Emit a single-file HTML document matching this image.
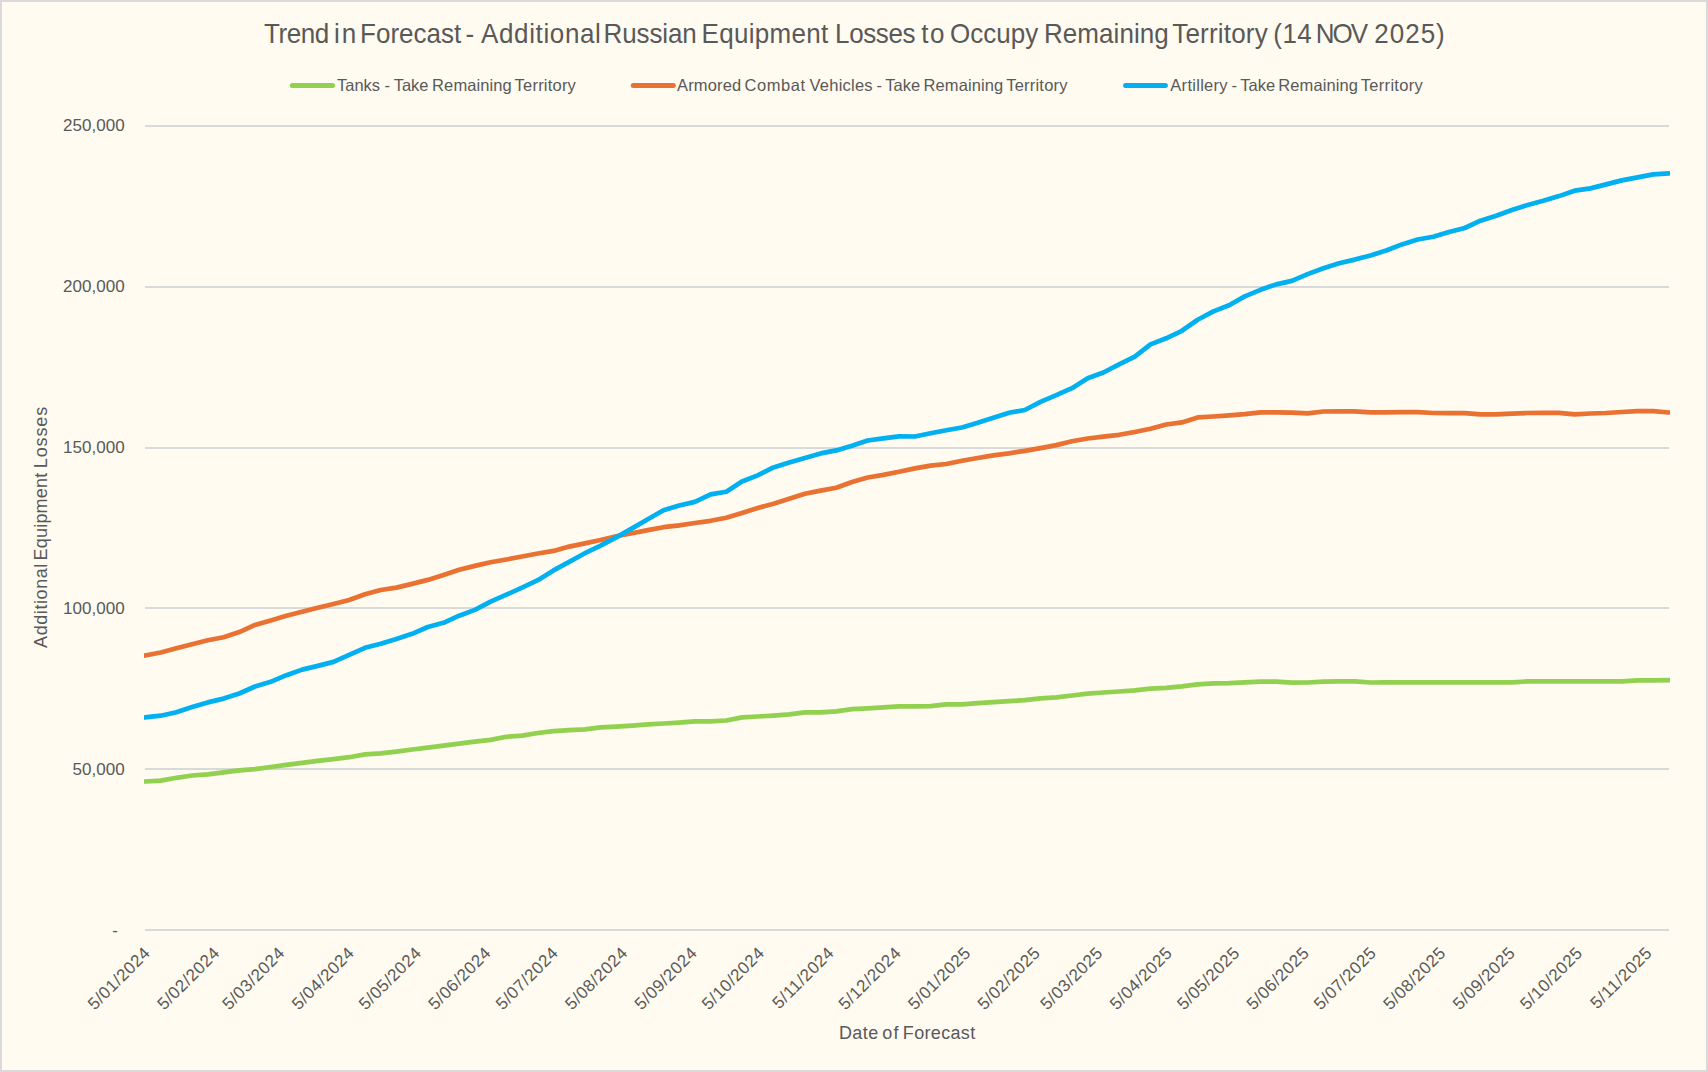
<!DOCTYPE html>
<html lang="en"><head><meta charset="utf-8"><title>Trend in Forecast</title>
<style>
html,body{margin:0;padding:0;background:#FFFBF0;}
body{width:1708px;height:1072px;overflow:hidden;position:relative;}
#frame{position:absolute;left:0;top:0;width:1704px;height:1068px;border:2px solid #D9D9D9;background:#FFFBF0;}
svg{position:absolute;left:0;top:0;}
text{font-family:"Liberation Sans",sans-serif;fill:#595959;}
</style></head><body>
<div id="frame"></div>
<svg width="1708" height="1072" viewBox="0 0 1708 1072">
<defs><clipPath id="pc"><rect x="144" y="100" width="1526" height="840"/></clipPath></defs>
<rect x="145" y="125" width="1524" height="2" fill="#D8D9DA"/>
<rect x="145" y="286" width="1524" height="2" fill="#D8D9DA"/>
<rect x="145" y="447" width="1524" height="2" fill="#D8D9DA"/>
<rect x="145" y="607" width="1524" height="2" fill="#D8D9DA"/>
<rect x="145" y="768" width="1524" height="2" fill="#D8D9DA"/>
<rect x="145" y="929" width="1524" height="2" fill="#D8D9DA"/>
<text transform="translate(263.9,43.0) scale(1,1.05)" font-size="26" letter-spacing="-0.39">Trend</text>
<text transform="translate(334.1,43.0) scale(1,1.05)" font-size="26" letter-spacing="1.95">in</text>
<text transform="translate(360.1,43.0) scale(1,1.05)" font-size="26" letter-spacing="0.01">Forecast</text>
<text transform="translate(465.6,43.0) scale(1,1.05)" font-size="26" letter-spacing="0.0">-</text>
<text transform="translate(481.0,43.0) scale(1,1.05)" font-size="26" letter-spacing="0.64">Additional</text>
<text transform="translate(603.6,43.0) scale(1,1.05)" font-size="26" letter-spacing="-0.12">Russian</text>
<text transform="translate(701.6,43.0) scale(1,1.05)" font-size="26" letter-spacing="0.29">Equipment</text>
<text transform="translate(835.1,43.0) scale(1,1.05)" font-size="26" letter-spacing="-0.39">Losses</text>
<text transform="translate(921.2,43.0) scale(1,1.05)" font-size="26" letter-spacing="1.5">to</text>
<text transform="translate(950.0,43.0) scale(1,1.05)" font-size="26" letter-spacing="0.01">Occupy</text>
<text transform="translate(1044.0,43.0) scale(1,1.05)" font-size="26" letter-spacing="0.06">Remaining</text>
<text transform="translate(1172.2,43.0) scale(1,1.05)" font-size="26" letter-spacing="0.21">Territory</text>
<text transform="translate(1273.3,43.0) scale(1,1.05)" font-size="26" letter-spacing="0.48">(14</text>
<text transform="translate(1315.8,43.0) scale(1,1.05)" font-size="26" letter-spacing="-1.97">NOV</text>
<text transform="translate(1374.3,43.0) scale(1,1.05)" font-size="26" letter-spacing="1.0">2025)</text>
<line x1="292.3" y1="85.5" x2="332.5" y2="85.5" stroke="#92D050" stroke-width="5" stroke-linecap="round"/>
<line x1="633.3" y1="85.5" x2="673.3" y2="85.5" stroke="#E97132" stroke-width="5" stroke-linecap="round"/>
<line x1="1125.6" y1="85.5" x2="1165.4" y2="85.5" stroke="#00B0F0" stroke-width="5" stroke-linecap="round"/>
<text transform="translate(337.1,90.9) scale(1,1.0)" font-size="16.5" letter-spacing="-0.04">Tanks</text>
<text transform="translate(384.6,90.9) scale(1,1.0)" font-size="16.5" letter-spacing="0.0">-</text>
<text transform="translate(393.8,90.9) scale(1,1.0)" font-size="16.5" letter-spacing="-0.08">Take</text>
<text transform="translate(432.1,90.9) scale(1,1.0)" font-size="16.5" letter-spacing="0.1">Remaining</text>
<text transform="translate(514.6,90.9) scale(1,1.0)" font-size="16.5" letter-spacing="0.21">Territory</text>
<text transform="translate(677.0,90.9) scale(1,1.0)" font-size="16.5" letter-spacing="0.17">Armored</text>
<text transform="translate(744.6,90.9) scale(1,1.0)" font-size="16.5" letter-spacing="0.54">Combat</text>
<text transform="translate(809.5,90.9) scale(1,1.0)" font-size="16.5" letter-spacing="0.23">Vehicles</text>
<text transform="translate(876.5,90.9) scale(1,1.0)" font-size="16.5" letter-spacing="0.0">-</text>
<text transform="translate(885.2,90.9) scale(1,1.0)" font-size="16.5" letter-spacing="0.05">Take</text>
<text transform="translate(923.5,90.9) scale(1,1.0)" font-size="16.5" letter-spacing="0.1">Remaining</text>
<text transform="translate(1006.2,90.9) scale(1,1.0)" font-size="16.5" letter-spacing="0.21">Territory</text>
<text transform="translate(1170.3,90.9) scale(1,1.0)" font-size="16.5" letter-spacing="0.29">Artillery</text>
<text transform="translate(1231.5,90.9) scale(1,1.0)" font-size="16.5" letter-spacing="0.0">-</text>
<text transform="translate(1240.2,90.9) scale(1,1.0)" font-size="16.5" letter-spacing="0.08">Take</text>
<text transform="translate(1278.3,90.9) scale(1,1.0)" font-size="16.5" letter-spacing="0.1">Remaining</text>
<text transform="translate(1360.8,90.9) scale(1,1.0)" font-size="16.5" letter-spacing="0.29">Territory</text>
<text class="yl" x="124.9" y="131.1" text-anchor="end" font-size="17" letter-spacing="0.06">250,000</text>
<text class="yl" x="124.9" y="292.1" text-anchor="end" font-size="17" letter-spacing="0.06">200,000</text>
<text class="yl" x="124.9" y="453.1" text-anchor="end" font-size="17" letter-spacing="0.06">150,000</text>
<text class="yl" x="124.9" y="614.1" text-anchor="end" font-size="17" letter-spacing="0.06">100,000</text>
<text class="yl" x="124.9" y="775.1" text-anchor="end" font-size="17" letter-spacing="0.06">50,000</text>
<text class="yl" x="118" y="936.1" text-anchor="end" font-size="17">-</text>
<text transform="translate(47.3,647.9) rotate(-90) scale(1,1.015)" font-size="18" letter-spacing="0.58">Additional</text>
<text transform="translate(47.3,560.4) rotate(-90) scale(1,1.015)" font-size="18" letter-spacing="0.2">Equipment</text>
<text transform="translate(47.3,468.2) rotate(-90) scale(1,1.015)" font-size="18" letter-spacing="0.88">Losses</text>
<text transform="translate(839.0,1039.1) scale(1,1.015)" font-size="18" letter-spacing="0.38">Date</text>
<text transform="translate(882.2,1039.1) scale(1,1.015)" font-size="18" letter-spacing="1.25">of</text>
<text transform="translate(902.8,1039.1) scale(1,1.015)" font-size="18" letter-spacing="0.34">Forecast</text>
<text class="xl" transform="translate(151.3,954.0) rotate(-45)" text-anchor="end" font-size="17" letter-spacing="0.5">5/01/2024</text>
<text class="xl" transform="translate(220.8,954.0) rotate(-45)" text-anchor="end" font-size="17" letter-spacing="0.5">5/02/2024</text>
<text class="xl" transform="translate(285.8,954.0) rotate(-45)" text-anchor="end" font-size="17" letter-spacing="0.5">5/03/2024</text>
<text class="xl" transform="translate(355.3,954.0) rotate(-45)" text-anchor="end" font-size="17" letter-spacing="0.5">5/04/2024</text>
<text class="xl" transform="translate(422.5,954.0) rotate(-45)" text-anchor="end" font-size="17" letter-spacing="0.5">5/05/2024</text>
<text class="xl" transform="translate(492.0,954.0) rotate(-45)" text-anchor="end" font-size="17" letter-spacing="0.5">5/06/2024</text>
<text class="xl" transform="translate(559.3,954.0) rotate(-45)" text-anchor="end" font-size="17" letter-spacing="0.5">5/07/2024</text>
<text class="xl" transform="translate(628.7,954.0) rotate(-45)" text-anchor="end" font-size="17" letter-spacing="0.5">5/08/2024</text>
<text class="xl" transform="translate(698.2,954.0) rotate(-45)" text-anchor="end" font-size="17" letter-spacing="0.5">5/09/2024</text>
<text class="xl" transform="translate(765.5,954.0) rotate(-45)" text-anchor="end" font-size="17" letter-spacing="0.5">5/10/2024</text>
<text class="xl" transform="translate(835.0,954.0) rotate(-45)" text-anchor="end" font-size="17" letter-spacing="0.5">5/11/2024</text>
<text class="xl" transform="translate(902.2,954.0) rotate(-45)" text-anchor="end" font-size="17" letter-spacing="0.5">5/12/2024</text>
<text class="xl" transform="translate(971.7,954.0) rotate(-45)" text-anchor="end" font-size="17" letter-spacing="0.5">5/01/2025</text>
<text class="xl" transform="translate(1041.2,954.0) rotate(-45)" text-anchor="end" font-size="17" letter-spacing="0.5">5/02/2025</text>
<text class="xl" transform="translate(1103.9,954.0) rotate(-45)" text-anchor="end" font-size="17" letter-spacing="0.5">5/03/2025</text>
<text class="xl" transform="translate(1173.4,954.0) rotate(-45)" text-anchor="end" font-size="17" letter-spacing="0.5">5/04/2025</text>
<text class="xl" transform="translate(1240.7,954.0) rotate(-45)" text-anchor="end" font-size="17" letter-spacing="0.5">5/05/2025</text>
<text class="xl" transform="translate(1310.2,954.0) rotate(-45)" text-anchor="end" font-size="17" letter-spacing="0.5">5/06/2025</text>
<text class="xl" transform="translate(1377.4,954.0) rotate(-45)" text-anchor="end" font-size="17" letter-spacing="0.5">5/07/2025</text>
<text class="xl" transform="translate(1446.9,954.0) rotate(-45)" text-anchor="end" font-size="17" letter-spacing="0.5">5/08/2025</text>
<text class="xl" transform="translate(1516.4,954.0) rotate(-45)" text-anchor="end" font-size="17" letter-spacing="0.5">5/09/2025</text>
<text class="xl" transform="translate(1583.6,954.0) rotate(-45)" text-anchor="end" font-size="17" letter-spacing="0.5">5/10/2025</text>
<text class="xl" transform="translate(1653.1,954.0) rotate(-45)" text-anchor="end" font-size="17" letter-spacing="0.5">5/11/2025</text>
<polyline fill="none" stroke="#92D050" stroke-width="4.7" stroke-linejoin="round" stroke-linecap="round" clip-path="url(#pc)" points="145.0,781.5 160.7,780.6 176.4,777.8 192.1,775.5 207.8,774.3 223.6,772.4 239.3,770.3 255.0,769.1 270.7,767.0 286.4,764.9 302.1,762.8 317.8,760.9 333.5,759.1 349.2,757.2 365.0,754.4 380.7,753.4 396.4,751.6 412.1,749.5 427.8,747.6 443.5,745.7 459.2,743.6 474.9,741.7 490.6,739.9 506.4,736.8 522.1,735.6 537.8,733.0 553.5,731.2 569.2,730.1 584.9,729.3 600.6,727.3 616.3,726.6 632.1,725.6 647.8,724.4 663.5,723.5 679.2,722.6 694.9,721.4 710.6,721.4 726.3,720.5 742.0,717.4 757.7,716.5 773.5,715.6 789.2,714.4 804.9,712.3 820.6,712.3 836.3,711.3 852.0,709.2 867.7,708.3 883.4,707.4 899.1,706.4 914.9,706.4 930.6,706.2 946.3,704.4 962.0,704.4 977.7,703.2 993.4,702.1 1009.1,701.1 1024.8,700.2 1040.5,698.3 1056.3,697.4 1072.0,695.5 1087.7,693.6 1103.4,692.5 1119.1,691.5 1134.8,690.4 1150.5,688.7 1166.2,687.8 1181.9,686.4 1197.7,684.3 1213.4,683.3 1229.1,683.1 1244.8,682.4 1260.5,681.7 1276.2,681.7 1291.9,682.6 1307.6,682.5 1323.4,681.6 1339.1,681.4 1354.8,681.4 1370.5,682.5 1386.2,682.3 1401.9,682.3 1417.6,682.3 1433.3,682.3 1449.0,682.3 1464.8,682.3 1480.5,682.3 1496.2,682.3 1511.9,682.3 1527.6,681.4 1543.3,681.4 1559.0,681.4 1574.7,681.4 1590.4,681.4 1606.2,681.4 1621.9,681.4 1637.6,680.4 1653.3,680.4 1669.0,680.2"/>
<polyline fill="none" stroke="#E97132" stroke-width="4.7" stroke-linejoin="round" stroke-linecap="round" clip-path="url(#pc)" points="145.0,655.5 160.7,652.5 176.4,648.3 192.1,644.3 207.8,640.3 223.6,637.3 239.3,632.1 255.0,624.9 270.7,620.4 286.4,615.7 302.1,611.8 317.8,607.8 333.5,604.0 349.2,600.0 365.0,594.2 380.7,590.0 396.4,587.6 412.1,583.9 427.8,579.9 443.5,575.0 459.2,569.8 474.9,565.9 490.6,562.3 506.4,559.5 522.1,556.5 537.8,553.5 553.5,550.9 569.2,546.6 584.9,543.4 600.6,540.0 616.3,536.2 632.1,533.2 647.8,530.1 663.5,527.2 679.2,525.4 694.9,523.0 710.6,520.8 726.3,517.8 742.0,513.1 757.7,508.0 773.5,503.7 789.2,498.8 804.9,493.7 820.6,490.6 836.3,487.8 852.0,482.0 867.7,477.5 883.4,474.9 899.1,471.7 914.9,468.4 930.6,465.6 946.3,464.0 962.0,460.8 977.7,458.0 993.4,455.4 1009.1,453.3 1024.8,450.9 1040.5,448.1 1056.3,445.1 1072.0,441.3 1087.7,438.5 1103.4,436.7 1119.1,434.8 1134.8,432.0 1150.5,428.7 1166.2,424.5 1181.9,422.4 1197.7,417.4 1213.4,416.5 1229.1,415.3 1244.8,414.2 1260.5,412.3 1276.2,412.3 1291.9,412.6 1307.6,413.3 1323.4,411.5 1339.1,411.3 1354.8,411.4 1370.5,412.3 1386.2,412.3 1401.9,412.1 1417.6,412.1 1433.3,413.0 1449.0,413.2 1464.8,413.2 1480.5,414.3 1496.2,414.3 1511.9,413.7 1527.6,413.0 1543.3,412.8 1559.0,412.8 1574.7,414.3 1590.4,413.5 1606.2,413.0 1621.9,412.0 1637.6,411.2 1653.3,411.2 1669.0,412.5"/>
<polyline fill="none" stroke="#00B0F0" stroke-width="4.7" stroke-linejoin="round" stroke-linecap="round" clip-path="url(#pc)" points="145.0,717.4 160.7,715.7 176.4,712.2 192.1,707.1 207.8,702.4 223.6,698.6 239.3,693.5 255.0,686.5 270.7,681.8 286.4,675.2 302.1,669.6 317.8,665.9 333.5,661.9 349.2,654.8 365.0,647.8 380.7,643.8 396.4,638.9 412.1,633.8 427.8,627.0 443.5,622.8 459.2,615.7 474.9,609.9 490.6,601.7 506.4,594.7 522.1,587.6 537.8,580.2 553.5,570.4 569.2,561.9 584.9,553.2 600.6,545.7 616.3,537.4 632.1,528.4 647.8,519.3 663.5,510.2 679.2,505.5 694.9,501.9 710.6,494.4 726.3,491.8 742.0,481.5 757.7,475.4 773.5,467.4 789.2,462.5 804.9,458.0 820.6,453.4 836.3,450.4 852.0,445.7 867.7,440.5 883.4,438.4 899.1,436.3 914.9,436.5 930.6,433.3 946.3,430.3 962.0,427.5 977.7,422.8 993.4,417.7 1009.1,412.8 1024.8,410.0 1040.5,401.8 1056.3,395.2 1072.0,388.2 1087.7,378.3 1103.4,372.5 1119.1,364.3 1134.8,356.6 1150.5,344.4 1166.2,338.3 1181.9,330.8 1197.7,319.8 1213.4,311.4 1229.1,305.3 1244.8,296.4 1260.5,289.8 1276.2,284.4 1291.9,280.9 1307.6,274.1 1323.4,268.3 1339.1,263.3 1354.8,259.6 1370.5,255.4 1386.2,250.5 1401.9,244.4 1417.6,239.5 1433.3,236.7 1449.0,232.0 1464.8,228.0 1480.5,220.7 1496.2,215.8 1511.9,210.0 1527.6,205.0 1543.3,200.8 1559.0,196.1 1574.7,190.7 1590.4,188.4 1606.2,184.4 1621.9,180.4 1637.6,177.4 1653.3,174.4 1669.0,173.4"/>
</svg>
</body></html>
